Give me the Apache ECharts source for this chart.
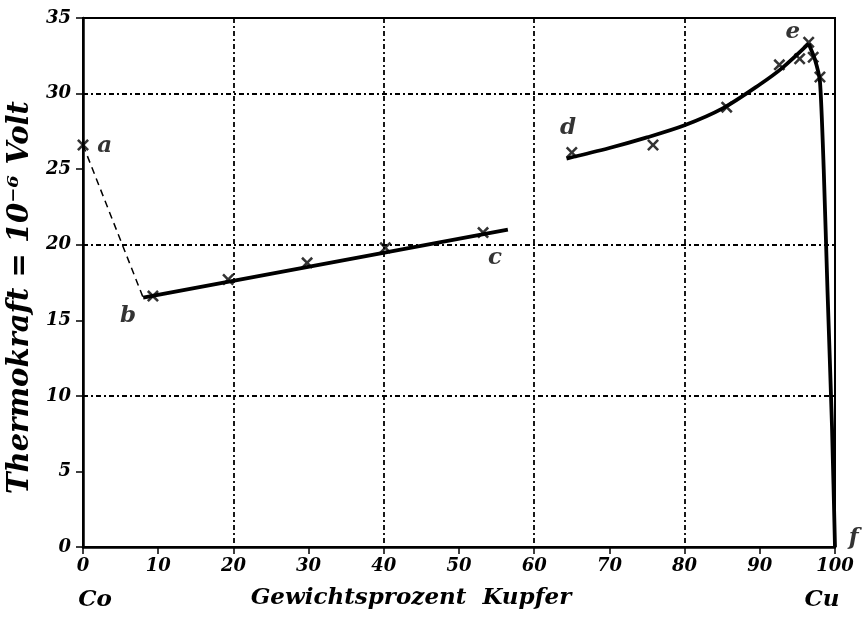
<!DOCTYPE html>
<html><head><meta charset="utf-8">
<script src="https://cdn.jsdelivr.net/npm/echarts@6/dist/echarts.min.js"></script>
<style>html,body{margin:0;padding:0;background:#fff}#c{width:867px;height:618px}</style>
</head><body><div id="c"></div>
<script>
// ---- data ----
const xTicks = [0,10,20,30,40,50,60,70,80,90,100];
const yTicks = [0,5,10,15,20,25,30,35];
const dashedAB = [[0,26.6],[8.0,16.5]];
const lineBC = [[8.0,16.5],[56.5,21.0]];
const crossesBC = [[0,26.6],[9.3,16.6],[19.3,17.7],[29.8,18.8],[40.2,19.8],[53.2,20.8]];
const curveDE = [[64.3,25.7],[70,26.4],[75,27.1],[80,27.9],[85,29.0],[90,30.6],[93,31.7],[96.5,33.3]];
const curveEF = [[96.5,33.3],[97.3,32.3],[98.0,30.8],[98.5,25],[99.0,17],[99.6,8],[100,0]];
const crossesDF = [[65,26.1],[75.8,26.6],[85.6,29.1],[92.6,31.9],[95.3,32.3],[96.5,33.4],[97.1,32.4],[98,31.1]];
const pointLabels = [[2.9,26.5,'a'],[6.0,15.3,'b'],[54.8,19.1,'c'],[64.5,27.7,'d'],[94.4,34.1,'e'],[102.5,0.6,'f']];

const FONT = 'DejaVu Serif';
const lbl = {fontFamily:FONT,fontStyle:'italic',fontWeight:'bold',color:'#000'};
const cross = 'path://M0,1.5L1.5,0L5,3.5L8.5,0L10,1.5L6.5,5L10,8.5L8.5,10L5,6.5L1.5,10L0,8.5L3.5,5Z';
const gridDash = {color:'#000',width:1.8,type:[5,3,2,3]};

const chart = echarts.init(document.getElementById('c'));
chart.setOption({
  backgroundColor:'#fff',
  animation:false,
  grid:{left:83,right:32,top:18,bottom:71,show:true,borderColor:'#000',borderWidth:2,outerBoundsMode:'none',containLabel:false},
  xAxis:[
    {type:'value',min:0,max:100,interval:10,
     axisLine:{lineStyle:{color:'#000',width:2.5}},
     axisTick:{length:7,lineStyle:{color:'#000',width:1.5}},
     axisLabel:Object.assign({fontSize:18,margin:10,formatter:v=>xTicks.includes(v)?String(v):''},lbl),
     splitLine:{show:false}},
    {type:'value',min:0,max:100,interval:20,position:'bottom',
     axisLine:{show:false},axisTick:{show:false},axisLabel:{show:false},
     splitLine:{show:true,lineStyle:gridDash}}
  ],
  yAxis:[
    {type:'value',min:0,max:35,interval:5,
     name:'Thermokraft = 10\u207B\u2076 Volt',nameLocation:'middle',nameGap:46,
     nameTextStyle:Object.assign({fontSize:29,padding:[0,30,0,0]},lbl),
     axisLine:{lineStyle:{color:'#000',width:2.5}},
     axisTick:{length:7,lineStyle:{color:'#000',width:1.5}},
     axisLabel:Object.assign({fontSize:18,margin:12,formatter:v=>yTicks.includes(v)?String(v):''},lbl),
     splitLine:{show:false}},
    {type:'value',min:0,max:35,interval:10,
     axisLine:{show:false},axisTick:{show:false},axisLabel:{show:false},
     splitLine:{show:true,lineStyle:gridDash}}
  ],
  graphic:[
    {type:'text',x:95,y:600,style:{text:'Co',font:'italic bold 23px "DejaVu Serif"',align:'center',verticalAlign:'middle',fill:'#000'}},
    {type:'text',x:822,y:600,style:{text:'Cu',font:'italic bold 23px "DejaVu Serif"',align:'center',verticalAlign:'middle',fill:'#000'}},
    {type:'text',x:411,y:598,style:{text:'Gewichtsprozent  Kupfer',font:'italic bold 23px "DejaVu Serif"',align:'center',verticalAlign:'middle',fill:'#000'}}
  ],
  series:[
    {type:'line',data:dashedAB,symbol:'none',lineStyle:{color:'#000',width:1.5,type:[7,5]},z:3},
    {type:'line',data:lineBC,symbol:'none',lineStyle:{color:'#000',width:3.8},z:3},
    {type:'line',data:curveDE,symbol:'none',smooth:0.3,lineStyle:{color:'#000',width:3.8},z:3},
    {type:'line',data:curveEF,symbol:'none',smooth:0.2,lineStyle:{color:'#000',width:3.8},z:3},
    {type:'scatter',data:crossesBC.concat(crossesDF),symbol:cross,symbolSize:12,itemStyle:{color:'#000'},z:4},
    {type:'scatter',data:pointLabels.map(p=>({value:[p[0],p[1]],name:p[2]})),symbolSize:0,clip:false,
     label:Object.assign({show:true,position:'inside',formatter:p=>p.name,fontSize:23},lbl),z:5}
  ]
});
</script></body></html>
